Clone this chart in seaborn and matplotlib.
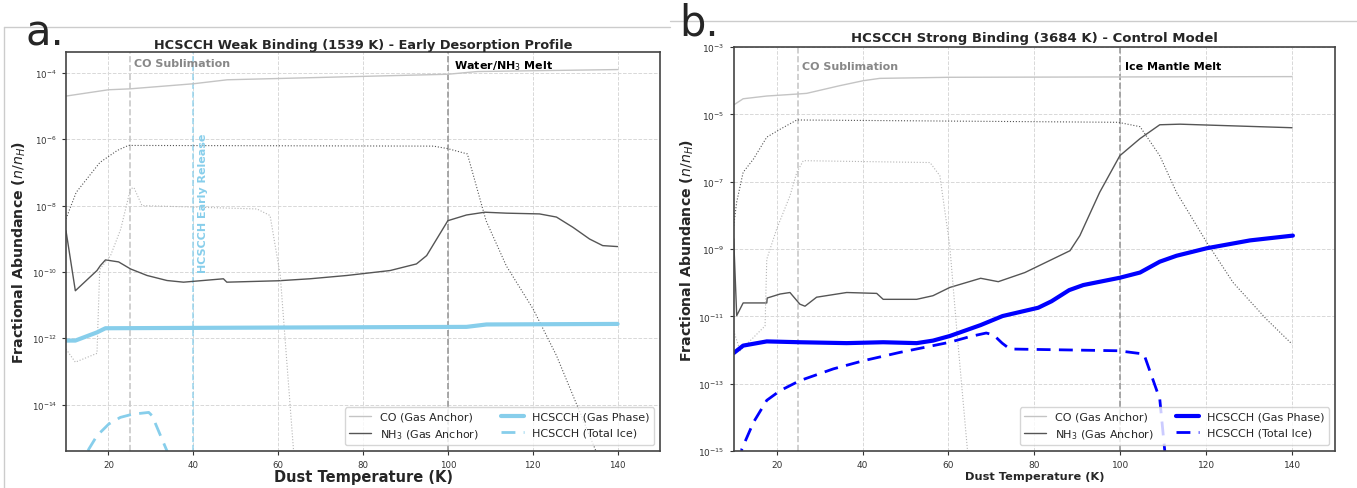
import numpy as np
import seaborn as sns
import matplotlib
matplotlib.use("Agg")
import matplotlib.pyplot as plt
from matplotlib.lines import Line2D
import matplotlib.ticker as mticker

# ---- panel a: weak binding (1539 K) ----
a_co_T = [10, 20, 25, 40, 48, 100, 107, 140]
a_co = [2.0e-5, 3.1e-5, 3.3e-5, 4.7e-5, 6.2e-5, 9.1e-5, 1.1e-4, 1.26e-4]

a_nh3_T = [10, 12.2, 17.3, 18.1, 19.3, 22.4, 25.2, 29.1, 33.8, 37.7, 47.1, 47.9, 60, 67.5,
           76.2, 86.4, 92.6, 95, 100, 104.4, 108.7, 113.8, 121.6, 125.6, 129.5, 133.4, 136.5, 140]
a_nh3 = [1.74e-9, 2.7e-11, 1.1e-10, 1.55e-10, 2.3e-10, 2.0e-10, 1.23e-10, 7.8e-11, 5.5e-11, 4.9e-11,
         6.2e-11, 4.9e-11, 5.4e-11, 6.2e-11, 7.8e-11, 1.1e-10, 1.74e-10, 3.1e-10, 3.5e-9, 5.2e-9,
         6.3e-9, 5.9e-9, 5.6e-9, 4.5e-9, 2.2e-9, 9.8e-10, 6.2e-10, 5.8e-10]

a_ice1_T = [10, 12.4, 18, 22.1, 24.7, 96.6, 100, 104.6, 109, 113.8, 120.1, 125.6, 135, 137]
a_ice1 = [4.0e-9, 2.5e-8, 2.0e-7, 4.6e-7, 6.5e-7, 6.2e-7, 5.2e-7, 3.6e-7, 3.5e-9, 1.5e-10,
          7.6e-12, 3.0e-13, 3.7e-16, 1e-16]

a_ice2_T = [10, 12.2, 17.3, 17.95, 20.5, 22.9, 25.2, 26, 27.9, 55, 58.1, 60.5, 63.6, 64.5]
a_ice2 = [4.7e-13, 1.9e-13, 3.5e-13, 1.2e-10, 3.1e-10, 1.95e-9, 3.2e-8, 3.5e-8, 1.0e-8, 7.9e-9,
          5.0e-9, 7.8e-11, 4.6e-16, 1e-16]

a_gas_T = [10, 12.2, 17.3, 19.3, 60, 104.4, 109.1, 140]
a_gas = [8.5e-13, 8.5e-13, 1.5e-12, 2.0e-12, 2.1e-12, 2.2e-12, 2.6e-12, 2.7e-12]

a_tice_T = [13, 15.4, 17.3, 20.1, 22.8, 25.6, 29.5, 30.3, 33.8, 35.5]
a_tice = [1e-16, 4.6e-16, 1.15e-15, 2.6e-15, 4.1e-15, 5.1e-15, 5.8e-15, 4.6e-15, 4.0e-16, 1e-16]

a_yticks = [1e-14, 1e-12, 1e-10, 1e-8, 1e-6, 1e-4]

# ---- panel b: strong binding (3684 K) ----
b_co_T = [10, 12.2, 17.7, 24.7, 27, 34.7, 40.2, 44, 60.3, 140]
b_co = [1.9e-5, 2.9e-5, 3.5e-5, 4.0e-5, 4.2e-5, 7.1e-5, 1.0e-4, 1.17e-4, 1.26e-4, 1.32e-4]

b_nh3_T = [10, 10.7, 12.2, 17.7, 17.8, 20.8, 23.1, 25.4, 26.6, 29.3, 36.3, 43.3, 44.8, 52.6, 56.4,
           60.3, 67.5, 71.6, 77.8, 88.3, 90.6, 95.2, 99.9, 104.6, 109.2, 113.9, 140]
b_nh3 = [2.0e-9, 1.05e-11, 2.5e-11, 2.5e-11, 3.5e-11, 4.6e-11, 5.1e-11, 2.3e-11, 2.0e-11, 3.7e-11,
         5.1e-11, 4.8e-11, 3.2e-11, 3.2e-11, 4.1e-11, 7.2e-11, 1.35e-10, 1.07e-10, 2.0e-10, 8.9e-10,
         2.5e-9, 4.8e-8, 5.9e-7, 1.9e-6, 4.9e-6, 5.1e-6, 4.0e-6]

b_ice1_T = [10, 10.7, 12.2, 14.6, 17.7, 20.8, 24.7, 99.5, 104.6, 109.2, 113.1, 120.1, 126.3, 134, 140]
b_ice1 = [4.9e-9, 2.5e-8, 1.9e-7, 4.7e-7, 2.1e-6, 3.6e-6, 6.8e-6, 5.8e-6, 4.3e-6, 5.9e-7, 4.8e-8,
          1.6e-9, 1.0e-10, 8.3e-12, 1.5e-12]

b_ice2_T = [10, 11.5, 17.3, 17.7, 20, 23.1, 24.7, 26.2, 55.7, 58, 60.3, 62, 64.4, 65]
b_ice2 = [3.7e-12, 9.5e-13, 5.2e-12, 5.0e-10, 3.9e-9, 3.8e-8, 1.9e-7, 4.2e-7, 3.7e-7, 1.5e-7,
          1.26e-9, 3.2e-12, 1.15e-15, 1e-16]

b_gas_T = [10, 12.2, 17.7, 25.4, 36.3, 44.8, 52.6, 56.4, 60.3, 67.5, 72.6, 80.9, 84, 88.1, 91.4,
           99.9, 104.6, 109.2, 113.1, 120.1, 130.2, 140.2]
b_gas = [8.1e-13, 1.35e-12, 1.8e-12, 1.7e-12, 1.6e-12, 1.7e-12, 1.6e-12, 1.9e-12, 2.6e-12, 5.5e-12,
         1.02e-11, 1.8e-11, 2.8e-11, 6.0e-11, 8.5e-11, 1.4e-10, 2.0e-10, 4.2e-10, 6.3e-10, 1.05e-9,
         1.8e-9, 2.5e-9]

b_tice_T = [11.2, 11.9, 14.6, 17.7, 20.8, 25.4, 33.2, 40.2, 48.7, 60.3, 65, 68.8, 70.5, 72.5, 74.3,
            99.5, 105.5, 109.2, 110.4, 110.8]
b_tice = [1e-16, 1.15e-15, 7.1e-15, 3.2e-14, 6.2e-14, 1.23e-13, 2.75e-13, 4.8e-13, 8.5e-13, 1.7e-12,
          2.5e-12, 3.2e-12, 2.8e-12, 1.6e-12, 1.07e-12, 9.5e-13, 7.6e-13, 3.5e-14, 9.1e-16, 1e-16]

b_yticks = [1e-15, 1e-13, 1e-11, 1e-9, 1e-7, 1e-5, 1e-3]

temp_ticks = [20, 40, 60, 80, 100, 120, 140]
legend_labels = ['CO (Gas Anchor)', 'NH$_3$ (Gas Anchor)', 'HCSCCH (Gas Phase)', 'HCSCCH (Total Ice)']

sns.set_style("ticks")
plt.rcParams['font.family'] = ['DejaVu Sans']
plt.rcParams['mathtext.fontset'] = 'dejavusans'

fig = plt.figure(figsize=(13.57, 4.89), dpi=100)
W, H = 1357, 489


def px_axes(x0, y0, x1, y1):
    return fig.add_axes([x0 / W, 1 - y1 / H, (x1 - x0) / W, (y1 - y0) / H])


ax_a = px_axes(66, 53, 660, 452)
ax_b = px_axes(733.7, 48, 1335, 452)


def draw(ax, d, gas_color, ylim, yticks, ticksize):
    sns.lineplot(x=d['co'][0], y=d['co'][1], ax=ax, color='#c4c4c4', lw=1.0, estimator=None, sort=False)
    h_co = ax.lines[-1]
    sns.lineplot(x=d['nh3'][0], y=d['nh3'][1], ax=ax, color='#555555', lw=1.0, estimator=None, sort=False)
    h_nh3 = ax.lines[-1]
    sns.lineplot(x=d['ice1'][0], y=d['ice1'][1], ax=ax, color='#555555', lw=0.8, ls=':', estimator=None, sort=False)
    sns.lineplot(x=d['ice2'][0], y=d['ice2'][1], ax=ax, color='#b5b5b5', lw=0.8, ls=':', estimator=None, sort=False)
    sns.lineplot(x=d['gas'][0], y=d['gas'][1], ax=ax, color=gas_color, lw=3, estimator=None, sort=False)
    h_gas = ax.lines[-1]
    sns.lineplot(x=d['tice'][0], y=d['tice'][1], ax=ax, color=gas_color, lw=2, ls='--',
                 estimator=None, sort=False)
    h_tice = ax.lines[-1]
    h_tice.set_dashes([5, 3])

    ax.set_yscale('log')
    ax.set_xlim(10, 150)
    ax.set_ylim(*ylim)
    ax.set_yticks(yticks)
    ax.yaxis.set_minor_locator(mticker.NullLocator())
    ax.yaxis.set_major_formatter(mticker.LogFormatterSciNotation(base=10))
    ax.set_xticks(temp_ticks)
    ax.grid(True, ls='--', color='#d8d8d8', lw=0.7)
    ax.tick_params(labelsize=ticksize, length=3, width=0.8, colors='#333333')
    for s in ax.spines.values():
        s.set_color('#444444')
        s.set_linewidth(1.2)
    ax.set_xlabel('')
    ax.set_ylabel('')
    ax.axvline(25, color='#c8c8c8', ls='--', lw=1.2, zorder=1)
    ax.axvline(100, color='#999999', ls='--', lw=1.2, zorder=1)
    ax.legend(handles=[h_co, h_nh3, h_gas, h_tice], labels=legend_labels,
              loc='lower right', ncol=2, fontsize=8, framealpha=0.8)


data_a = dict(co=(a_co_T, a_co), nh3=(a_nh3_T, a_nh3), ice1=(a_ice1_T, a_ice1), ice2=(a_ice2_T, a_ice2),
              gas=(a_gas_T, a_gas), tice=(a_tice_T, a_tice))
data_b = dict(co=(b_co_T, b_co), nh3=(b_nh3_T, b_nh3), ice1=(b_ice1_T, b_ice1), ice2=(b_ice2_T, b_ice2),
              gas=(b_gas_T, b_gas), tice=(b_tice_T, b_tice))

draw(ax_a, data_a, '#87CEEB', (10 ** -15.4, 10 ** -3.37), a_yticks, 6.2)
draw(ax_b, data_b, '#0000FF', (1e-15, 1e-3), b_yticks, 6.5)

# panel a annotations
ax_a.axvline(40, color='#87CEEB', ls='--', lw=1.2, alpha=0.8, zorder=1)
ax_a.text(26, 0.985, 'CO Sublimation', transform=ax_a.get_xaxis_transform(), color='#888888',
          fontsize=8, fontweight='bold', va='top')
ax_a.text(101.5, 0.985, 'Water/NH$_3$ Melt', transform=ax_a.get_xaxis_transform(), color='black',
          fontsize=8, fontweight='bold', va='top')
ax_a.text(41, 1e-10, 'HCSCCH Early Release', rotation=90, color='#87CEEB', fontsize=8,
          fontweight='bold', ha='left', va='bottom')
ax_a.set_title('HCSCCH Weak Binding (1539 K) - Early Desorption Profile', fontsize=9.3,
               fontweight='bold', pad=3)
ax_a.set_xlabel('Dust Temperature (K)', fontsize=10.5, fontweight='bold')
ax_a.set_ylabel('Fractional Abundance ($n/n_H$)', fontsize=10.2, fontweight='bold')
ax_a.xaxis.set_label_coords(0.5, -0.045)
ax_a.yaxis.set_label_coords(-0.064, 0.5)

# panel b annotations
ax_b.text(26, 0.953, 'CO Sublimation', transform=ax_b.get_xaxis_transform(), color='#888888',
          fontsize=8, fontweight='bold', va='center')
ax_b.text(101, 0.953, 'Ice Mantle Melt', transform=ax_b.get_xaxis_transform(), color='black',
          fontsize=8, fontweight='bold', va='center')
ax_b.set_title('HCSCCH Strong Binding (3684 K) - Control Model', fontsize=9.5, fontweight='bold', pad=4)
ax_b.set_xlabel('Dust Temperature (K)', fontsize=8.2, fontweight='bold')
ax_b.set_ylabel('Fractional Abundance ($n/n_H$)', fontsize=10.2, fontweight='bold')
ax_b.xaxis.set_label_coords(0.5, -0.05)
ax_b.yaxis.set_label_coords(-0.062, 0.5)

# panel letters and frame edges of the composite
fig.text(25 / W, 1 - 46 / H, 'a.', fontsize=30, va='baseline')
fig.text(679 / W, 1 - 35 / H, 'b.', fontsize=30, va='baseline')
fig.add_artist(Line2D([4 / W, 670 / W], [1 - 28 / H, 1 - 28 / H], color='#cccccc', lw=1))
fig.add_artist(Line2D([4 / W, 4 / W], [1 - 28 / H, 0], color='#cccccc', lw=1))
fig.add_artist(Line2D([670 / W, 1357 / W], [1 - 22 / H, 1 - 22 / H], color='#cccccc', lw=1))

fig.savefig('out.png', dpi=100)
